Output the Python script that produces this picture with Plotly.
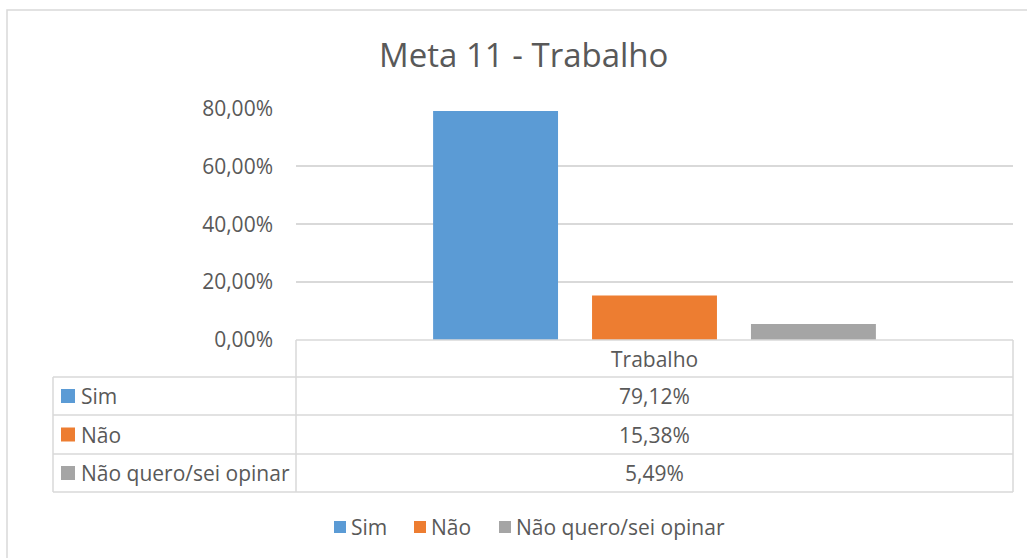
import plotly.graph_objects as go

categories = ["Trabalho"]
series_names = ["Sim", "Não", "Não quero/sei opinar"]
series_values = [[0.7912], [0.1538], [0.0549]]
series_colors = ["#5B9BD5", "#ED7D31", "#A5A5A5"]
y_ticks = [0, 0.2, 0.4, 0.6, 0.8]
title_text = "Meta 11 - Trabalho"

W, H = 1027, 558
FONT = "Open Sans, Noto Sans, sans-serif"
TXT = "#595959"
GRID = "#D9D9D9"

def px(x):
    return x / W

def py(y):
    return 1 - y / H

# layout geometry (pixels)
plot_l, plot_r = 296, 1013
plot_top, plot_bot = 108.5, 340
tab_l = 53
row_edges = [340, 377, 415, 454, 492]

fig = go.Figure()
for name, vals, col in zip(series_names, series_values, series_colors):
    fig.add_trace(go.Bar(x=categories, y=vals, name=name, marker_color=col,
                         marker_line_width=0, showlegend=False, hoverinfo="skip"))

shapes = []
line = dict(color=GRID, width=1.5)
# chart frame
shapes.append(dict(type="rect", xref="paper", yref="paper", x0=px(7), x1=px(1040),
                   y0=py(575), y1=py(10), line=line, layer="below"))
# table horizontal lines
for i, ye in enumerate(row_edges):
    x0 = plot_l if i == 0 else tab_l
    shapes.append(dict(type="line", xref="paper", yref="paper", x0=px(x0), x1=px(plot_r),
                       y0=py(ye), y1=py(ye), line=line))
# vertical lines
shapes.append(dict(type="line", xref="paper", yref="paper", x0=px(plot_l), x1=px(plot_l),
                   y0=py(row_edges[0]), y1=py(row_edges[-1]), line=line))
shapes.append(dict(type="line", xref="paper", yref="paper", x0=px(plot_r), x1=px(plot_r),
                   y0=py(row_edges[0]), y1=py(row_edges[-1]), line=line))
shapes.append(dict(type="line", xref="paper", yref="paper", x0=px(tab_l), x1=px(tab_l),
                   y0=py(row_edges[1]), y1=py(row_edges[-1]), line=line))

annotations = []
tfont = dict(family=FONT, size=21, color=TXT)
# header
annotations.append(dict(xref="paper", yref="paper", x=px((plot_l + plot_r) / 2),
                        y=py((row_edges[0] + row_edges[1]) / 2), text=categories[0],
                        showarrow=False, font=tfont, xanchor="center", yanchor="middle"))

def fmt_pct(v):
    return f"{v * 100:.2f}%".replace(".", ",")

for i, (name, vals, col) in enumerate(zip(series_names, series_values, series_colors)):
    yc = (row_edges[i + 1] + row_edges[i + 2]) / 2
    shapes.append(dict(type="rect", xref="paper", yref="paper", x0=px(61), x1=px(75),
                       y0=py(yc + 7), y1=py(yc - 7), fillcolor=col, line_width=0))
    annotations.append(dict(xref="paper", yref="paper", x=px(79), y=py(yc), text=name,
                            showarrow=False, font=tfont, xanchor="left", yanchor="middle"))
    annotations.append(dict(xref="paper", yref="paper", x=px((plot_l + plot_r) / 2), y=py(yc),
                            text=fmt_pct(vals[0]), showarrow=False, font=tfont,
                            xanchor="center", yanchor="middle"))

# bottom legend
leg_y = 527
leg_x = [334, 414, 499]
for name, col, lx in zip(series_names, series_colors, leg_x):
    shapes.append(dict(type="rect", xref="paper", yref="paper", x0=px(lx), x1=px(lx + 12),
                       y0=py(leg_y + 6), y1=py(leg_y - 6), fillcolor=col, line_width=0))
    annotations.append(dict(xref="paper", yref="paper", x=px(lx + 15), y=py(leg_y), text=name,
                            showarrow=False, font=tfont, xanchor="left", yanchor="middle"))

fig.update_layout(
    template="none",
    width=W, height=H, autosize=False,
    margin=dict(l=0, r=0, t=0, b=0, pad=0, autoexpand=False),
    paper_bgcolor="white", plot_bgcolor="white",
    separators=",.",
    barmode="group", bargap=0.335, bargroupgap=0.214,
    title=dict(text=title_text, x=0.51, xanchor="center", y=py(55), yanchor="middle",
               yref="container", font=dict(family=FONT, size=33, color=TXT)),
    xaxis=dict(domain=[px(plot_l), px(plot_r)], showticklabels=False, showgrid=False,
               zeroline=False, showline=False, fixedrange=True, automargin=False),
    yaxis=dict(domain=[py(plot_bot), py(plot_top)], range=[0, 0.8], tickvals=y_ticks,
               tickformat=".2%", showgrid=True, gridcolor=GRID, gridwidth=1.5,
               zeroline=False, showline=False, ticks="", ticklabelstandoff=22,
               automargin=False,
               tickfont=dict(family=FONT, size=21, color=TXT), fixedrange=True),
    shapes=shapes, annotations=annotations,
    showlegend=False,
)

fig.write_html("out.html", config={"displayModeBar": False},
               post_script="document.body.style.margin='0';document.body.style.overflow='hidden';")
